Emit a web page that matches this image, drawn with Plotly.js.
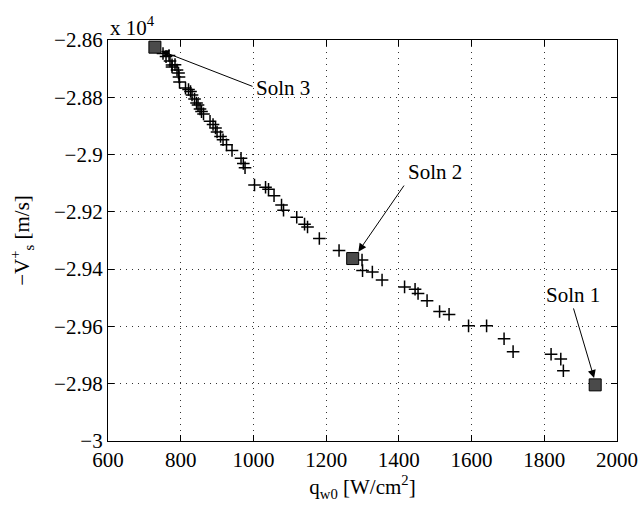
<!DOCTYPE html>
<html>
<head>
<meta charset="utf-8">
<script src="https://cdn.plot.ly/plotly-3.0.1.min.js"></script>
<style>html,body{margin:0;padding:0;background:#fff;}#chart{width:642px;height:509px;}</style>
</head>
<body>
<div id="chart"></div>
<script>
// q_w0 [W/cm^2]
var qw0 = [751.3, 759.6, 767.8, 770.6, 776.1, 776.1, 784.3, 789.8, 794.0, 795.3,
  796.7, 813.2, 821.5, 827.0, 831.1, 838.0, 843.5, 847.6, 853.1, 857.2,
  862.7, 880.6, 888.9, 895.7, 899.9, 909.5, 916.4, 926.0, 941.1, 965.9,
  972.2, 976.9, 1003.0, 1033.3, 1041.5, 1056.7, 1077.3, 1082.8, 1119.1, 1140.6,
  1148.8, 1181.3, 1235.5, 1298.7, 1300.1, 1327.1, 1353.8, 1415.7, 1444.6, 1452.8,
  1477.6, 1512.0, 1538.1, 1591.7, 1641.3, 1689.4, 1714.2, 1818.7, 1845.4, 1852.5];
// -V_s^+ [m/s] in units of 10^4
var vs = [-2.8647, -2.8658, -2.8654, -2.8673, -2.8687, -2.8694, -2.8686, -2.8705, -2.8715, -2.8729,
  -2.8747, -2.8768, -2.8773, -2.8780, -2.8792, -2.8806, -2.8820, -2.8827, -2.8841, -2.8850,
  -2.8858, -2.8884, -2.8895, -2.8907, -2.8921, -2.8937, -2.8948, -2.8966, -2.8986, -2.9013,
  -2.9031, -2.9046, -2.9106, -2.9114, -2.9121, -2.9144, -2.9176, -2.9194, -2.9219, -2.9243,
  -2.9253, -2.9293, -2.9335, -2.9368, -2.9405, -2.9410, -2.9438, -2.9462, -2.9470, -2.9485,
  -2.9510, -2.9548, -2.9558, -2.9598, -2.9598, -2.9643, -2.9688, -2.9697, -2.9714, -2.9755];
// highlighted solutions
var solnLabels = ['Soln 1', 'Soln 2', 'Soln 3'];
var solnQ = [1940, 1273, 729];
var solnV = [-2.9804, -2.9363, -2.8625];

function mkFont(sz) {
  return {family: 'Liberation Serif, Times New Roman, serif', size: sz || 21, color: '#000000'};
}

var traces = [
  {x: qw0, y: vs, type: 'scatter', mode: 'markers', showlegend: false,
   marker: {symbol: 'cross-thin', size: 9, line: {color: '#000', width: 1.5}}},
  {x: solnQ, y: solnV, text: solnLabels, type: 'scatter', mode: 'markers', showlegend: false,
   marker: {symbol: 'square', size: 12, color: '#4a4a4a', line: {color: '#000', width: 1}}}
];

var textPos = [
  {x: 1877.8, y: -2.9490, xanchor: 'center'},
  {x: 1499.6, y: -2.9061, xanchor: 'center'},
  {x: 1001.6, y: -2.8768, xanchor: 'left'}
];
var arrowTail = [[1879.2, -2.9532], [1417.0, -2.9103], [1001.6, -2.8764]];
var arrowHead = [[1937, -2.9780], [1288.6, -2.9339], [745.8, -2.8638]];

var annotations = [];
for (var i = 0; i < solnLabels.length; i++) {
  annotations.push({x: textPos[i].x, y: textPos[i].y, xref: 'x', yref: 'y', text: solnLabels[i],
    showarrow: false, xanchor: textPos[i].xanchor, yanchor: 'middle', font: mkFont(21)});
  annotations.push({x: arrowHead[i][0], y: arrowHead[i][1], ax: arrowTail[i][0], ay: arrowTail[i][1],
    xref: 'x', yref: 'y', axref: 'x', ayref: 'y', text: '', showarrow: true,
    arrowhead: 2, arrowsize: 1.6, arrowwidth: 1, arrowcolor: '#000', standoff: 0, startstandoff: 0});
}
annotations.push({xref: 'paper', yref: 'paper', x: 0, y: 1, xanchor: 'left', yanchor: 'bottom',
  yshift: -2, text: 'x 10<sup>4</sup>', showarrow: false, font: mkFont(21)});

function axisCommon(extra) {
  var a = {
    showline: true, linecolor: '#000', linewidth: 1.3, mirror: 'ticks',
    ticks: 'inside', ticklen: 6, tickcolor: '#000', tickwidth: 1,
    showgrid: true, gridcolor: '#333', griddash: '1px,5px', gridwidth: 1,
    zeroline: false, tickfont: mkFont(21)
  };
  for (var k in extra) a[k] = extra[k];
  return a;
}

var layout = {
  width: 642, height: 509,
  margin: {l: 108, r: 25, t: 40, b: 68},
  paper_bgcolor: '#fff', plot_bgcolor: '#fff',
  font: mkFont(21),
  xaxis: axisCommon({range: [600, 2000], dtick: 200, tick0: 600,
    title: {text: 'q<sub>w0</sub> [W/cm<sup>2</sup>]', font: mkFont(21), standoff: 6}}),
  yaxis: axisCommon({range: [-3, -2.86], dtick: 0.02, tick0: -3,
    title: {text: '\u2212V<sup>+</sup><sub>s</sub> [m/s]', font: mkFont(21), standoff: 18}}),
  annotations: annotations
};

Plotly.newPlot('chart', traces, layout, {displayModeBar: false});
</script>
</body>
</html>
